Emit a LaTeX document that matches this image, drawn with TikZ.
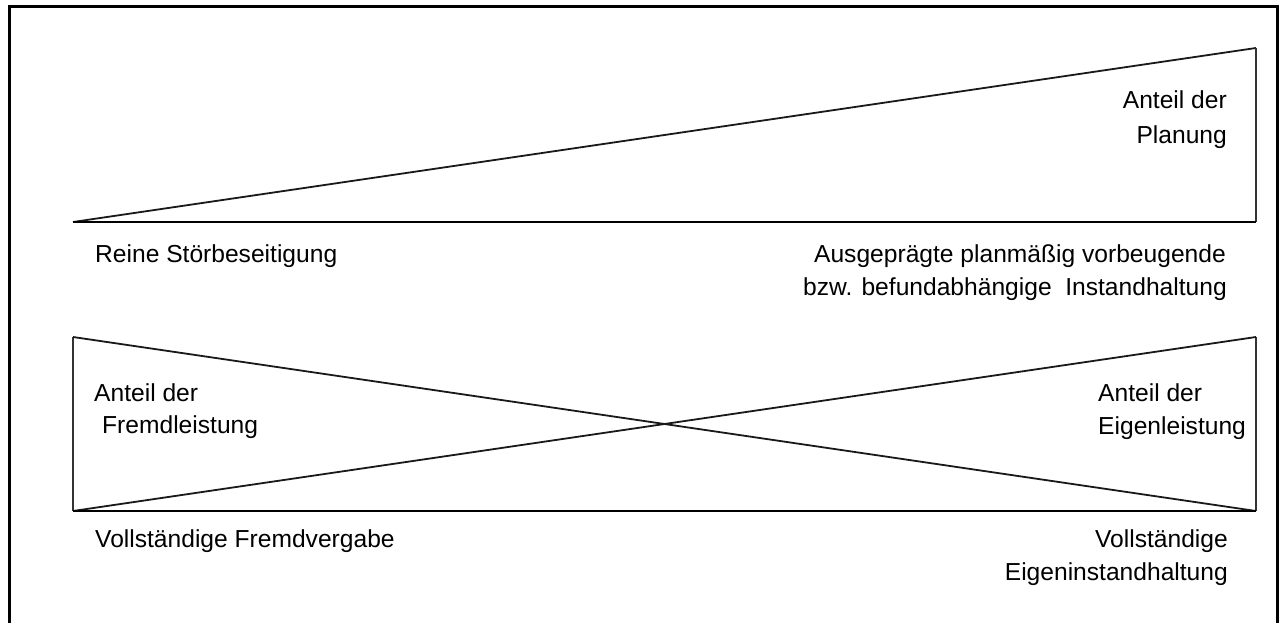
\documentclass[tikz,border=0pt]{standalone}
\usepackage{fontspec}
\setmainfont{Liberation Sans}
\begin{document}
\begin{tikzpicture}[x=1pt,y=-1pt,
  lbl/.style={inner sep=0pt, font=\fontsize{24.6}{30}\selectfont, text=black},
  lblL/.style={lbl, anchor=base west},
  lblR/.style={lbl, anchor=base east},
  slant/.style={line width=1.8pt, black!90},
  edge/.style={line width=1.4pt, black!80},
  baseline/.style={line width=2.4pt, black},
  frame/.style={line width=3pt, black}]
\useasboundingbox (0,0) rectangle (1282,623);
\draw[frame] (9,7) rectangle (1277,640);

% upper wedge: share of planning
\coordinate (tL) at (73,222);
\coordinate (tR) at (1256,48);
\coordinate (bR) at (1256,222);
\draw[slant] (tL) -- (tR);
\draw[edge] (tR) -- (bR);
\draw[baseline] (tL) -- (bR);

% lower crossed box: external vs. internal work
\coordinate (uL) at (73,337);
\coordinate (uR) at (1256,337);
\coordinate (lL) at (73,511);
\coordinate (lR) at (1256,511);
\draw[edge] (uL) -- (lL);
\draw[edge] (uR) -- (lR);
\draw[slant] (uL) -- (lR);
\draw[slant] (lL) -- (uR);
\draw[baseline] (lL) -- (lR);

% labels
\node[lblR] (pl1) at (1227,109) {Anteil der};
\node[lblR] (pl2) at (1227,143) {Planung};
\node[lblL] (rs) at (95,262) {Reine Störbeseitigung};
\node[lblR] (ap1) at (1226,262) {Ausgeprägte planmäßig vorbeugende};
\node[lblR] (ap2) at (1227,295) {bzw. befundabhängige\ \ Instandhaltung};
\node[lblL] (fl1) at (94,401) {Anteil der};
\node[lblL] (fl2) at (102,433) {Fremdleistung};
\node[lblL] (el1) at (1098,401) {Anteil der};
\node[lblL] (el2) at (1098,434) {Eigenleistung};
\node[lblL] (vf) at (95,547) {Vollständige Fremdvergabe};
\node[lblR] (ve1) at (1228,547) {Vollständige};
\node[lblR] (ve2) at (1228,580) {Eigeninstandhaltung};
\end{tikzpicture}
\end{document}
